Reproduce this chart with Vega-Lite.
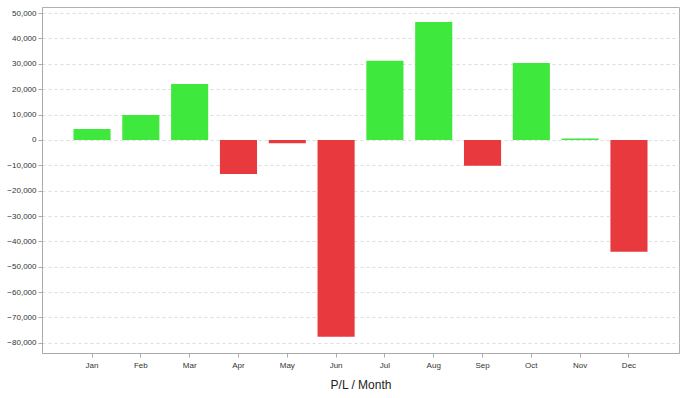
{
  "$schema": "https://vega.github.io/schema/vega-lite/v6.json",
  "autosize": "none",
  "width": 637,
  "height": 346,
  "padding": {"left": 42, "top": 7, "right": 9, "bottom": 45},
  "background": "white",
  "config": {
    "view": {"stroke": "#b0b0b0", "strokeWidth": 1},
    "font": "Liberation Sans"
  },
  "data": {
    "values": [
      {"month": "Jan", "pl": 4300},
      {"month": "Feb", "pl": 9800},
      {"month": "Mar", "pl": 22000},
      {"month": "Apr", "pl": -13400},
      {"month": "May", "pl": -1300},
      {"month": "Jun", "pl": -77600},
      {"month": "Jul", "pl": 31200},
      {"month": "Aug", "pl": 46500},
      {"month": "Sep", "pl": -10200},
      {"month": "Oct", "pl": 30300},
      {"month": "Nov", "pl": 600},
      {"month": "Dec", "pl": -44100}
    ]
  },
  "mark": {"type": "bar"},
  "encoding": {
    "x": {
      "field": "month",
      "type": "ordinal",
      "sort": null,
      "scale": {"paddingInner": 0.24, "paddingOuter": 0.645},
      "axis": {
        "title": "P/L / Month",
        "titleFontSize": 12,
        "titleFontWeight": "normal",
        "titleColor": "#222",
        "titlePadding": 10,
        "labelAngle": 0,
        "labelFontSize": 8,
        "labelColor": "#333",
        "labelPadding": 4,
        "tickSize": 4,
        "tickColor": "#aaa",
        "domainColor": "#aaa",
        "grid": false
      }
    },
    "y": {
      "field": "pl",
      "type": "quantitative",
      "scale": {"domain": [-84000, 52400], "nice": false, "zero": false},
      "axis": {
        "title": null,
        "values": [-80000, -70000, -60000, -50000, -40000, -30000, -20000, -10000, 0, 10000, 20000, 30000, 40000, 50000],
        "format": ",d",
        "labelFontSize": 8,
        "labelColor": "#333",
        "labelPadding": 2,
        "tickSize": 4,
        "tickColor": "#aaa",
        "domainColor": "#aaa",
        "grid": true,
        "gridColor": "#dddddd",
        "gridDash": [3, 3]
      }
    },
    "color": {
      "condition": {"test": "datum.pl >= 0", "value": "#3ee83c"},
      "value": "#e8393e"
    }
  }
}
